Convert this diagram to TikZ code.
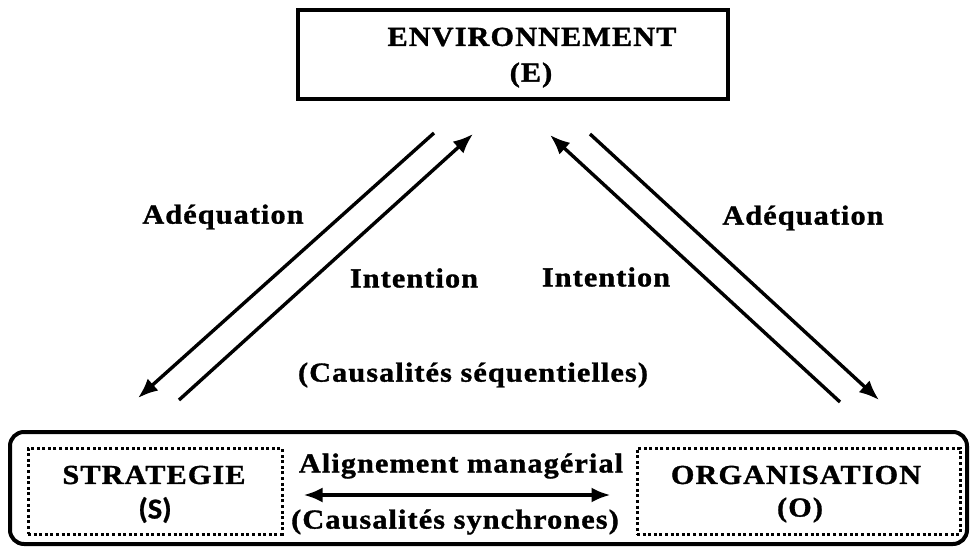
\documentclass[tikz,border=0pt]{standalone}
\usepackage{fontspec}
\setmainfont{Liberation Serif}
\newfontfamily\wideserif[FakeStretch=1.1,LetterSpace=4,FakeBold=1.2]{Liberation Serif}
\newfontfamily\codesans[FakeStretch=1.05,FakeBold=0.8]{Carlito}
\usetikzlibrary{arrows.meta,calc}

\begin{document}
\begin{tikzpicture}[x=1pt,y=-1pt,
  lbl/.style={font=\wideserif\bfseries\fontsize{27.5}{32}\selectfont, inner sep=0pt},
  sanslbl/.style={font=\codesans\bfseries\fontsize{29}{32}\selectfont, inner sep=0pt},
  envbox/.style={draw, line width=3.5pt, minimum width=430pt, minimum height=89pt, inner sep=0pt},
  basebox/.style={draw, line width=4pt, rounded corners=14pt, minimum width=957pt, minimum height=112pt, inner sep=0pt},
  dotbox/.style={draw, line width=3pt, dash pattern=on 3pt off 2.6pt, minimum height=86pt, inner sep=0pt},
  flow/.style={line width=3.4pt, -{Latex[length=20pt,width=16pt]}},
  twoway/.style={line width=3.6pt, {Latex[length=19pt,width=15pt]}-{Latex[length=19pt,width=15pt]}}
]
% page frame
\path[use as bounding box] (0,0) rectangle (971,548);

% environment box
\node[envbox] (env) at (513,54.5) {};
\node[lbl] (envname) at (532,37) {ENVIRONNEMENT};
\node[lbl] (envcode) at (531,75) {(E)};

% bottom frame with strategy and organisation
\node[basebox] (base) at (488.5,488) {};
\node[dotbox, minimum width=254pt] (sbox) at (155,491) {};
\node[dotbox, minimum width=323pt] (obox) at (798.5,491) {};
\node[lbl] (strat) at (154,475) {STRATEGIE};
\node[sanslbl] (stratcode) at (155,510) {(S)};
\node[lbl] (org) at (796,475) {ORGANISATION};
\node[lbl] (orgcode) at (800,510) {(O)};

% managerial alignment
\node[lbl] (align) at (461,466) {Alignement managérial};
\draw[twoway, shorten <=20pt, shorten >=25pt] ($(sbox.east)+(0,4)$) -- ($(obox.west)+(0,4)$);
\node[lbl] (sync) at (455,522) {(Causalités synchrones)};

% sequential causalities
\coordinate (lAtop) at (434,133);
\coordinate (lAbot) at (138,398);
\coordinate (lIbot) at (179,400);
\coordinate (lItop) at (473,134);
\coordinate (rIbot) at (840,402);
\coordinate (rItop) at (550,135);
\coordinate (rAtop) at (590,134);
\coordinate (rAbot) at (879,400);
\draw[flow] (lAtop) -- (lAbot);
\draw[flow] (lIbot) -- (lItop);
\draw[flow] (rIbot) -- (rItop);
\draw[flow] (rAtop) -- (rAbot);

\node[lbl] (adqL) at (223,217) {Adéquation};
\node[lbl] (adqR) at (803,218) {Adéquation};
\node[lbl] (intL) at (414,278) {Intention};
\node[lbl] (intR) at (606,277) {Intention};
\node[lbl] (seq) at (473,375) {(Causalités séquentielles)};
\end{tikzpicture}
\end{document}
